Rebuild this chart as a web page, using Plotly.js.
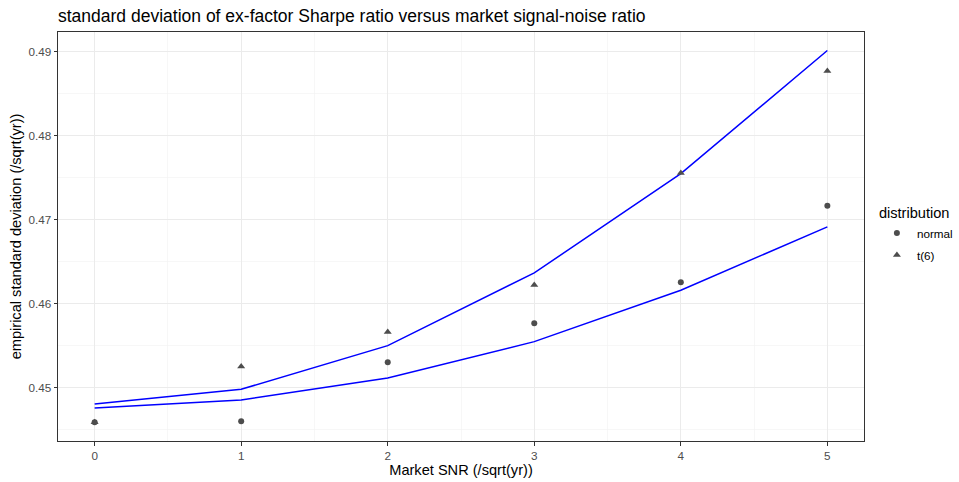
<!DOCTYPE html>
<html>
<head>
<meta charset="utf-8">
<script src="https://cdn.plot.ly/plotly-3.0.1.min.js"></script>
<style>html,body{margin:0;padding:0;background:#fff;}#chart{width:959px;height:482px;}</style>
</head>
<body>
<div id="chart"></div>
<script>
const snr = [0, 1, 2, 3, 4, 5];
const normalPts = [0.44592, 0.44605, 0.45306, 0.45770, 0.46258, 0.47167];
const t6Pts = [0.44591, 0.45254, 0.45667, 0.46226, 0.47556, 0.48770];
const upperLine = [0.44810, 0.44984, 0.45504, 0.46369, 0.47550, 0.49015];
const lowerLine = [0.44762, 0.44857, 0.45119, 0.45551, 0.46163, 0.46917];
const seriesNames = ["normal", "t(6)"];
const xTicks = [0, 1, 2, 3, 4, 5];
const yTicks = [0.45, 0.46, 0.47, 0.48, 0.49];

const font = "Liberation Sans, Arial, sans-serif";
const ptColor = "#4d4d4d";
const traces = [
  {x: snr, y: upperLine, mode: "lines", line: {color: "#0000ff", width: 1.5}, showlegend: false, hoverinfo: "skip"},
  {x: snr, y: lowerLine, mode: "lines", line: {color: "#0000ff", width: 1.5}, showlegend: false, hoverinfo: "skip"},
  {x: snr, y: normalPts, mode: "markers", name: seriesNames[0], legendgroup: "a", marker: {symbol: "circle", size: 6, color: ptColor}},
  {x: snr, y: t6Pts, mode: "markers", name: seriesNames[1], legendgroup: "b", marker: {symbol: "triangle-up", size: 7, color: ptColor}}
];

const gridCol = "#ebebeb";
const layout = {
  width: 959, height: 482,
  margin: {l: 58, r: 95, t: 32, b: 41, autoexpand: false},
  paper_bgcolor: "#fff", plot_bgcolor: "#fff",
  font: {family: font, color: "#000"},
  title: {text: "standard deviation of ex-factor Sharpe ratio versus market signal-noise ratio",
          font: {size: 17.5, color: "#000", family: font}, x: 58/959, xanchor: "left", xref: "container", y: 0.968, yanchor: "middle"},
  xaxis: {
    range: [-0.25, 5.25], tickvals: xTicks, ticktext: xTicks.map(String),
    showgrid: true, gridcolor: gridCol, gridwidth: 1,
    minor: {dtick: 0.5, tick0: 0, showgrid: true, gridcolor: "#f2f2f2", gridwidth: 0.6, ticks: ""},
    zeroline: false, showline: true, linecolor: "#333333", linewidth: 1, mirror: true,
    ticks: "outside", ticklen: 3.5, tickcolor: "#333333", tickwidth: 1,
    tickfont: {size: 11.7, color: "#4d4d4d"},
    title: {text: "Market SNR (/sqrt(yr))", font: {size: 14.6, color: "#000"}, standoff: 3}
  },
  yaxis: {
    range: [0.44369, 0.49235], tickvals: yTicks, ticktext: yTicks.map(v => v.toFixed(2)),
    showgrid: true, gridcolor: gridCol, gridwidth: 1,
    minor: {dtick: 0.005, tick0: 0.445, showgrid: true, gridcolor: "#f2f2f2", gridwidth: 0.6, ticks: ""},
    zeroline: false, showline: true, linecolor: "#333333", linewidth: 1, mirror: true,
    ticks: "outside", ticklen: 3.5, tickcolor: "#333333", tickwidth: 1,
    tickfont: {size: 11.7, color: "#4d4d4d"},
    title: {text: "empirical standard deviation (/sqrt(yr))", font: {size: 14.6, color: "#000"}, standoff: 3}
  },
  legend: {
    x: 1.016, xanchor: "left", y: 0.505, yanchor: "middle",
    title: {text: "distribution", font: {size: 14.6, color: "#000"}},
    font: {size: 11.7, color: "#000"}, bgcolor: "rgba(0,0,0,0)",
    traceorder: "grouped", tracegroupgap: 3, itemwidth: 30
  },
  showlegend: true
};
Plotly.newPlot("chart", traces, layout, {displayModeBar: false, staticPlot: true});
</script>
</body>
</html>
